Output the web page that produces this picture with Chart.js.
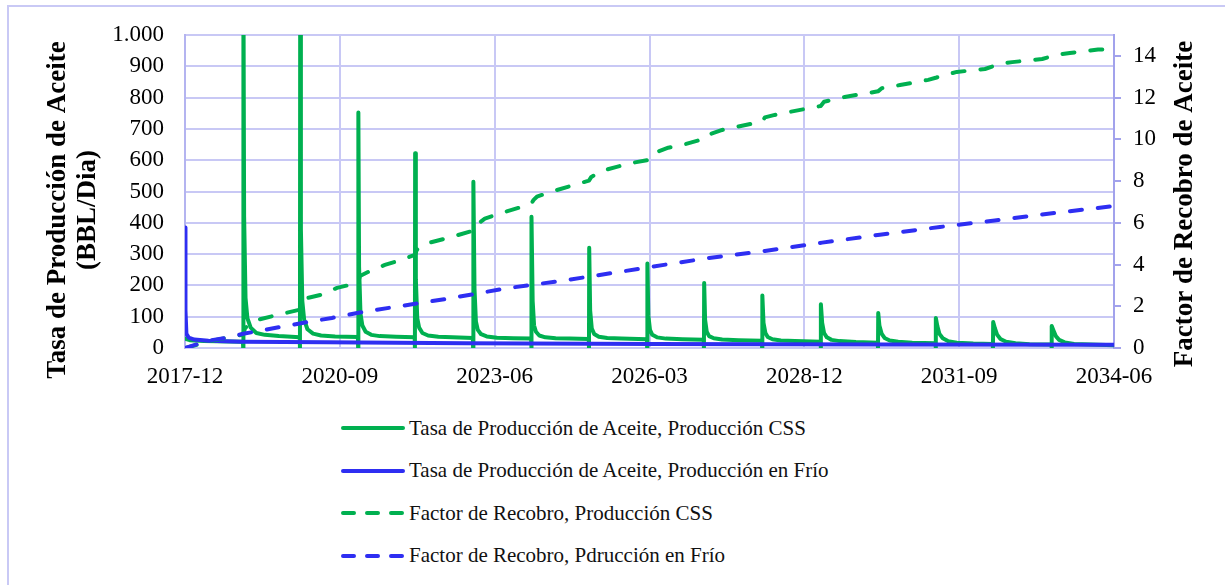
<!DOCTYPE html>
<html lang="es">
<head>
<meta charset="utf-8">
<title>Tasa de Producción y Factor de Recobro</title>
<script src="https://cdn.jsdelivr.net/npm/chart.js@4.4.1/dist/chart.umd.min.js"></script>
<style>
  html, body { margin: 0; padding: 0; background: #fff; }
  body { width: 1225px; height: 585px; position: relative; overflow: hidden; font-family: 'Liberation Serif', 'Times New Roman', serif; }
  .frame { position: absolute; left: 7px; top: 5px; width: 1240px; height: 600px; border: 2px solid #c9c9f5; box-sizing: border-box; }
  .chart-box { position: absolute; left: 0; top: 0; width: 1225px; height: 395px; }
  #legend { position: absolute; left: 341px; top: 407px; list-style: none; margin: 0; padding: 0; }
  #legend li { display: flex; align-items: center; height: 42.5px; font-size: 21px; color: #111; }
  #legend svg { margin-right: 4px; }
</style>
</head>
<body>
<div class="frame"></div>
<div class="chart-box"><canvas id="prodChart"></canvas></div>
<ul id="legend"></ul>

<script>
// x values are months counted from 2017-12
const xTickLabels = ['2017-12', '2020-09', '2023-06', '2026-03', '2028-12', '2031-09', '2034-06'];
const xStep = 33;
const xMax = 198;
const rfTicks = [0, 2, 4, 6, 8, 10, 12, 14];

const seriesNames = [
  'Tasa de Producción de Aceite, Producción CSS',
  'Tasa de Producción de Aceite, Producción en Frío',
  'Factor de Recobro, Producción CSS',
  'Factor de Recobro, Pdrucción en Frío'
];

const leftTitle = ['Tasa de Producción de Aceite', '(BBL/Dia)'];
const rightTitle = 'Factor de Recobro de Aceite';

// oil rate, CSS (BBL/Dia): [month, rate]
const rateCss = [
  [0, 30], [1, 25], [4, 22], [12.35, 20],
  [12.4, 0], [12.45, 1200], [12.6, 420], [12.9, 160], [13.3, 95], [14, 65], [15.2, 48], [17, 42], [20, 38], [24.45, 34],
  [24.5, 0], [24.55, 1100], [24.7, 380], [25, 150], [25.4, 90], [26.1, 60], [27.3, 46], [29, 40], [32, 37], [36.85, 35],
  [36.9, 0], [36.95, 752], [37.1, 260], [37.4, 110], [37.8, 72], [38.5, 52], [39.7, 42], [41.5, 38], [45, 36], [48.95, 34],
  [49.0, 0], [49.05, 622], [49.2, 220], [49.5, 95], [49.9, 65], [50.6, 48], [51.8, 40], [54, 36], [57, 34], [61.35, 32],
  [61.4, 0], [61.43, 455], [61.46, 200], [61.5, 531], [61.7, 190], [62, 85], [62.4, 58], [63.1, 44], [64.3, 37], [66.5, 33], [70, 31], [73.75, 30],
  [73.8, 0], [73.83, 360], [73.86, 170], [73.9, 419], [74.1, 150], [74.4, 72], [74.8, 52], [75.5, 40], [76.8, 34], [79, 31], [82, 30], [86.05, 29],
  [86.1, 0], [86.15, 320], [86.35, 120], [86.7, 62], [87.2, 45], [88.2, 36], [90, 32], [93, 30], [98.45, 28],
  [98.5, 0], [98.55, 270], [98.75, 105], [99.1, 58], [99.6, 42], [100.6, 34], [102.5, 30], [106, 28], [110.55, 26],
  [110.6, 0], [110.65, 208], [110.85, 90], [111.2, 52], [111.7, 38], [112.7, 31], [114.5, 27], [118, 25], [122.95, 23],
  [123.0, 0], [123.05, 168], [123.3, 80], [123.7, 48], [124.2, 35], [125.2, 28], [127, 24], [130, 22], [135.45, 20],
  [135.5, 0], [135.55, 140], [135.8, 80], [136.2, 48], [136.8, 34], [137.8, 26], [139.5, 22], [143, 19], [147.65, 17],
  [147.7, 0], [147.75, 112], [148.0, 72], [148.5, 45], [149.1, 32], [150.2, 24], [152, 20], [155, 17], [159.95, 15],
  [160.0, 0], [160.05, 96], [160.35, 70], [160.8, 45], [161.5, 31], [162.6, 22], [164.5, 17], [168, 14], [172.15, 13],
  [172.2, 0], [172.25, 83], [172.6, 64], [173.1, 42], [173.8, 29], [175, 20], [177, 15], [180, 12], [184.65, 11],
  [184.7, 0], [184.75, 70], [185.1, 56], [185.6, 38], [186.3, 26], [187.5, 18], [189.5, 13], [193, 11], [198, 9]
];

// oil rate, cold production (BBL/Dia)
const rateCold = [
  [0, 385], [0.1, 120], [0.3, 45], [0.8, 33], [2, 27], [5, 23], [12, 20], [30, 18],
  [60, 15], [100, 13], [150, 11], [198, 10]
];

// recovery factor, CSS
const rfCss = [
  [0, 0], [6, 0.36], [12.4, 0.65], [12.8, 0.95], [14, 1.2], [16, 1.38], [20, 1.6], [24.5, 1.84],
  [25, 2.1], [26.2, 2.4], [28.8, 2.54], [32.4, 2.88], [36.9, 3.12], [37.3, 3.45], [39.9, 3.74],
  [42.6, 3.98], [45.8, 4.2], [49, 4.46], [49.4, 4.7], [50.1, 4.86], [52.2, 5.05], [56.5, 5.3],
  [61.4, 5.62], [61.8, 5.85], [63.9, 6.2], [67.1, 6.45], [73.1, 6.85], [73.8, 6.92], [74.3, 7.1],
  [75, 7.25], [78.2, 7.5], [84.2, 7.9], [86.1, 8.02], [86.6, 8.2], [89, 8.5], [92, 8.68], [95.3, 8.87],
  [98.5, 9.0], [99, 9.2], [100.6, 9.4], [103, 9.6], [106, 9.73], [110.6, 10.02], [111.3, 10.2],
  [114.5, 10.45], [117.6, 10.6], [123, 10.85], [123.6, 11.05], [125.7, 11.17], [129, 11.32],
  [135.5, 11.6], [136.2, 11.8], [140.6, 12.03], [147.7, 12.3], [148.5, 12.45], [152.4, 12.6],
  [158.4, 12.85], [160, 12.95], [161.3, 13.05], [164.5, 13.23], [170.5, 13.37], [172.2, 13.5],
  [173.3, 13.6], [176.3, 13.7], [182.7, 13.85], [184.7, 13.98], [185.5, 14.05], [188.6, 14.14],
  [194.6, 14.3], [197.5, 14.33]
];

// recovery factor, cold production
const rfCold = [
  [0, 0], [5, 0.35], [9, 0.5], [12.4, 0.68], [25, 1.2], [31.3, 1.44], [37.7, 1.72], [55.6, 2.35],
  [62, 2.6], [68.2, 2.85], [80.6, 3.23], [92.7, 3.65], [99.1, 3.88], [111.5, 4.31], [123.6, 4.65],
  [135.8, 5.05], [148.1, 5.43], [160.9, 5.8], [172.6, 6.11], [185.4, 6.47], [197.8, 6.8]
];

const COLORS = {
  green: '#00B050',
  blue: '#2E2EF2',
  grid: '#c8c8f5',
  axis: '#b4b4f0',
  axisRight: '#a2a2ec',
  text: '#000'
};

const FONT = "'Liberation Serif', 'Times New Roman', serif";

const toPoints = arr => arr.map(p => ({ x: p[0], y: p[1] }));
const thousands = v => String(v).replace(/\B(?=(\d{3})+(?!\d))/g, '.');

// axis titles drawn by hand so they sit where the original has them
const axisTitles = {
  id: 'axisTitles',
  afterDraw(chart) {
    const ctx = chart.ctx;
    ctx.save();
    ctx.font = 'bold 27px ' + FONT;
    ctx.fillStyle = COLORS.text;
    ctx.textAlign = 'center';
    ctx.textBaseline = 'middle';
    ctx.translate(58, 210);
    ctx.rotate(-Math.PI / 2);
    ctx.fillText(leftTitle[0], 0, 0);
    ctx.fillText(leftTitle[1], 0, 30);
    ctx.restore();

    ctx.save();
    ctx.font = 'bold 27px ' + FONT;
    ctx.fillStyle = COLORS.text;
    ctx.textAlign = 'center';
    ctx.textBaseline = 'middle';
    ctx.translate(1185, 204);
    ctx.rotate(-Math.PI / 2);
    ctx.fillText(rightTitle, 0, 0);
    ctx.restore();
  }
};

const datasets = [
  {
    label: seriesNames[0], data: toPoints(rateCss), yAxisID: 'y',
    borderColor: COLORS.green, borderWidth: 4, order: 4
  },
  {
    label: seriesNames[1], data: toPoints(rateCold), yAxisID: 'y',
    borderColor: COLORS.blue, borderWidth: 4, order: 3
  },
  {
    label: seriesNames[2], data: toPoints(rfCss), yAxisID: 'y1',
    borderColor: COLORS.green, borderWidth: 4, borderDash: [12, 16], order: 2
  },
  {
    label: seriesNames[3], data: toPoints(rfCold), yAxisID: 'y1',
    borderColor: COLORS.blue, borderWidth: 4, borderDash: [12, 16], order: 1
  }
];

const chart = new Chart(document.getElementById('prodChart'), {
  type: 'line',
  data: {
    datasets: datasets.map(d => Object.assign({
      pointRadius: 0,
      tension: 0,
      fill: false,
      borderCapStyle: 'round',
      borderJoinStyle: 'round'
    }, d))
  },
  options: {
    responsive: true,
    maintainAspectRatio: false,
    animation: false,
    events: [],
    layout: { padding: { top: 35, left: 0, right: 0, bottom: 0 } },
    plugins: {
      legend: { display: false },
      tooltip: { enabled: false }
    },
    scales: {
      x: {
        type: 'linear',
        min: 0,
        max: xMax,
        afterFit: scale => { scale.height = 47; },
        ticks: {
          stepSize: xStep,
          maxRotation: 0,
          autoSkip: false,
          padding: 15,
          color: COLORS.text,
          font: { family: FONT, size: 23 },
          callback: v => xTickLabels[Math.round(v / xStep)]
        },
        grid: { color: COLORS.grid, lineWidth: 2, drawTicks: false },
        border: { color: COLORS.grid, width: 2 }
      },
      y: {
        position: 'left',
        min: 0,
        max: 1000,
        afterFit: scale => { scale.width = 185; },
        ticks: {
          stepSize: 100,
          padding: 21,
          color: COLORS.text,
          font: { family: FONT, size: 23 },
          callback: v => thousands(v)
        },
        grid: { color: COLORS.grid, lineWidth: 2, drawTicks: false },
        border: { color: COLORS.axis, width: 2 }
      },
      y1: {
        position: 'right',
        min: 0,
        max: 15,
        afterFit: scale => { scale.width = 111; },
        afterBuildTicks: axis => { axis.ticks = rfTicks.map(v => ({ value: v })); },
        ticks: {
          padding: 12,
          color: COLORS.text,
          font: { family: FONT, size: 23 }
        },
        grid: { drawOnChartArea: false, color: COLORS.axisRight, lineWidth: 2, tickLength: 7 },
        border: { color: COLORS.axisRight, width: 2 }
      }
    }
  },
  plugins: [axisTitles]
});

// legend as a plain list, one series per row
function renderLegend() {
  const list = document.getElementById('legend');
  list.innerHTML = chart.data.datasets.map(ds => {
    const dash = ds.borderDash ? 'stroke-dasharray="11 13"' : '';
    return `<li>
      <svg width="64" height="8"><line x1="2" y1="4" x2="62" y2="4" stroke="${ds.borderColor}" stroke-width="4" stroke-linecap="round" ${dash}/></svg>
      <span>${ds.label}</span>
    </li>`;
  }).join('');
}

renderLegend();
</script>
</body>
</html>
